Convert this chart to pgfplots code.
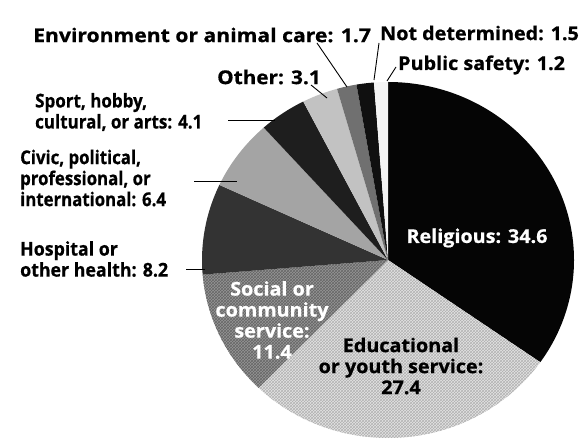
\documentclass[border=0pt]{standalone}
\usepackage{pgfplots}
\pgfplotsset{compat=1.18}
\usepackage{pgfplotstable}
\usetikzlibrary{patterns}
\usepackage{fontspec}
\setmainfont{Open Sans}[FakeBold=0.7,FakeStretch=1.04]
\definecolor{c0}{HTML}{050505}
\definecolor{c1}{HTML}{E4E4E4}
\definecolor{c2}{HTML}{969696}
\definecolor{c3}{HTML}{333333}
\definecolor{c4}{HTML}{A4A4A4}
\definecolor{c5}{HTML}{1E1E1E}
\definecolor{c6}{HTML}{C2C2C2}
\definecolor{c7}{HTML}{707070}
\definecolor{c8}{HTML}{101010}
\definecolor{c9}{HTML}{F4F4F4}
\tikzset{
  w0/.style={fill=c0},
  w1/.style={fill=c1,postaction={pattern=crosshatch,pattern color=black!30}},
  w2/.style={fill=c2,postaction={pattern=crosshatch,pattern color=black!60}},
  w3/.style={fill=c3},
  w4/.style={fill=c4},
  w5/.style={fill=c5},
  w6/.style={fill=c6},
  w7/.style={fill=c7},
  w8/.style={fill=c8},
  w9/.style={fill=c9},
}
\pgfplotstableread{
value
34.6
27.4
11.4
8.2
6.4
4.1
3.1
1.7
1.5
1.2
}\piedata
\newcommand\lbl{\fontsize{19}{21}\selectfont\bfseries}
\begin{document}
\begin{tikzpicture}
\begin{axis}[width=583pt,height=442pt,scale only axis,
  xmin=0,xmax=583,ymin=0,ymax=442,hide axis,clip=false]
\def\total{0}
\pgfplotsforeachungrouped \i in {0,...,9}{%
  \pgfplotstablegetelem{\i}{value}\of\piedata
  \pgfmathsetmacro\total{\total+\pgfplotsretval}%
}
\pgfmathsetmacro\k{360/\total}%
\def\cum{0}
\pgfplotsforeachungrouped \i in {0,...,9}{%
  \pgfplotstablegetelem{\i}{value}\of\piedata
  \pgfmathsetmacro\a{90-\k*\cum}%
  \pgfmathsetmacro\cum{\cum+\pgfplotsretval}%
  \pgfmathsetmacro\b{90-\k*\cum}%
  \pgfmathsetmacro\sx{388+186*cos(\a)}%
  \pgfmathsetmacro\sy{182+178*sin(\a)}%
  \edef\cmd{\noexpand\fill[w\i] (axis cs:388,182) -- (axis cs:\sx,\sy) arc[start angle=\a, end angle=\b, x radius=186pt, y radius=178pt] -- cycle;}%
  \cmd
}
% leader lines
\draw[line width=0.9pt] (axis cs:317,399) -- (axis cs:347,355);
\draw[line width=0.9pt] (axis cs:379,399) -- (axis cs:374,362);
\draw[line width=0.9pt] (axis cs:396,375) -- (axis cs:387,361);
\draw[line width=0.9pt] (axis cs:311,357) -- (axis cs:327,344);
\draw[line width=0.9pt] (axis cs:228,322) -- (axis cs:275,322);
\draw[line width=0.9pt] (axis cs:194,261) -- (axis cs:237,261);
\draw[line width=0.9pt] (axis cs:186,173) -- (axis cs:205,173);
% outer labels
\node[anchor=west,inner sep=0pt,font=\lbl] at (axis cs:33,407) {\scalebox{1.07}[1]{Environment or animal care: 1.7}};
\node[anchor=west,inner sep=0pt,font=\lbl] at (axis cs:380,409) {Not determined: 1.5};
\node[anchor=west,inner sep=0pt,font=\lbl] at (axis cs:398,377) {Public safety: 1.2};
\node[anchor=west,inner sep=0pt,font=\lbl] at (axis cs:217,365) {\scalebox{1.05}[1]{Other: 3.1}};
\node[anchor=west,inner sep=0pt,font=\lbl,align=left,xscale=0.86,transform shape] at (axis cs:35,330) {Sport, hobby,\\cultural, or arts: 4.1};
\node[anchor=west,inner sep=0pt,font=\lbl,align=left,xscale=0.85,transform shape] at (axis cs:20,264) {Civic, political,\\professional, or\\international: 6.4};
\node[anchor=west,inner sep=0pt,font=\lbl,align=left,xscale=0.9,transform shape] at (axis cs:20,183) {Hospital or\\other health: 8.2};
% inner labels
\node[inner sep=0pt,font=\lbl,text=white] at (axis cs:477,204) {Religious: 34.6};
\node[inner sep=0pt,font=\lbl,align=center] at (axis cs:401,76) {Educational\\or youth service:\\27.4};
\node[inner sep=0pt,font=\lbl,align=center,text=white] at (axis cs:272,122) {Social or\\community\\service:\\11.4};
\end{axis}
\pgfresetboundingbox
\useasboundingbox (0,0) rectangle (583pt,442pt);
\end{tikzpicture}
\end{document}
